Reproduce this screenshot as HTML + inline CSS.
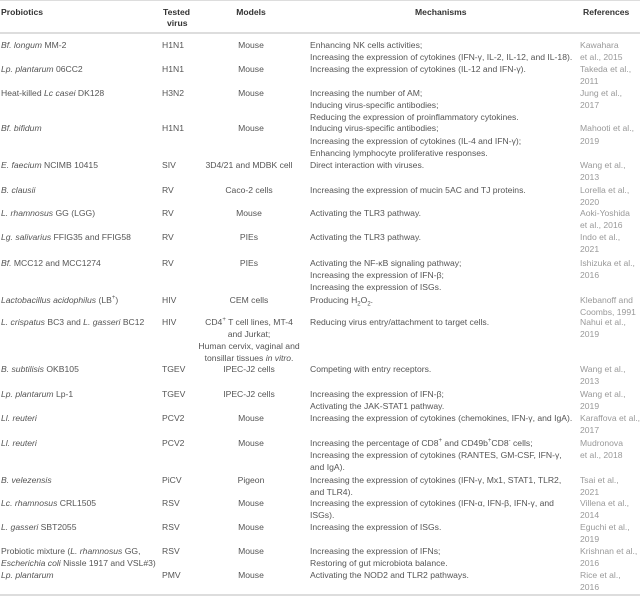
<!DOCTYPE html>
<html><head><meta charset="utf-8"><style>
html,body{margin:0;padding:0;background:#fff;}
body{width:640px;height:598px;position:relative;overflow:hidden;font-family:"Liberation Sans",Arial,sans-serif;font-size:8.6px;color:#555;}
div.t{position:absolute;white-space:nowrap;line-height:10px;}
.h{font-weight:bold;color:#333;}
.r{color:#999;}
.c{width:120px;text-align:center;}
.hl{position:absolute;left:0;width:640px;background:#ddd;}
sup,sub{font-size:6px;line-height:0;}
</style></head><body>
<div class="hl" style="top:0;height:1px"></div>
<div class="hl" style="top:32px;height:2px"></div>
<div class="hl" style="top:594px;height:2px"></div>

<div class="t h" style="left:1px;top:7px">Probiotics</div>
<div class="t h" style="left:163px;top:7px">Tested</div>
<div class="t h" style="left:167px;top:18px">virus</div>
<div class="t h c" style="left:191px;top:7px">Models</div>
<div class="t h" style="left:415px;top:7px">Mechanisms</div>
<div class="t h" style="left:583px;top:7px">References</div>

<!-- col1 -->
<div class="t" style="left:1px;top:40px"><i>Bf. longum</i> MM-2</div>
<div class="t" style="left:1px;top:64px"><i>Lp. plantarum</i> 06CC2</div>
<div class="t" style="left:1px;top:88px">Heat-killed <i>Lc casei</i> DK128</div>
<div class="t" style="left:1px;top:123px"><i>Bf. bifidum</i></div>
<div class="t" style="left:1px;top:160px"><i>E. faecium</i> NCIMB 10415</div>
<div class="t" style="left:1px;top:185px"><i>B. clausii</i></div>
<div class="t" style="left:1px;top:208px"><i>L. rhamnosus</i> GG (LGG)</div>
<div class="t" style="left:1px;top:232px"><i>Lg. salivarius</i> FFIG35 and FFIG58</div>
<div class="t" style="left:1px;top:258px"><i>Bf.</i> MCC12 and MCC1274</div>
<div class="t" style="left:1px;top:295px"><i>Lactobacillus acidophilus</i> (LB<sup>+</sup>)</div>
<div class="t" style="left:1px;top:317px"><i>L. crispatus</i> BC3 and <i>L. gasseri</i> BC12</div>
<div class="t" style="left:1px;top:364px"><i>B. subtilisis</i> OKB105</div>
<div class="t" style="left:1px;top:389px"><i>Lp. plantarum</i> Lp-1</div>
<div class="t" style="left:1px;top:413px"><i>Ll. reuteri</i></div>
<div class="t" style="left:1px;top:438px"><i>Ll. reuteri</i></div>
<div class="t" style="left:1px;top:475px"><i>B. velezensis</i></div>
<div class="t" style="left:1px;top:498px"><i>Lc. rhamnosus</i> CRL1505</div>
<div class="t" style="left:1px;top:522px"><i>L. gasseri</i> SBT2055</div>
<div class="t" style="left:1px;top:546px">Probiotic mixture (<i>L. rhamnosus</i> GG,</div>
<div class="t" style="left:1px;top:558px"><i>Escherichia coli</i> Nissle 1917 and VSL#3)</div>
<div class="t" style="left:1px;top:570px"><i>Lp. plantarum</i></div>

<!-- col2 -->
<div class="t" style="left:162px;top:40px">H1N1</div>
<div class="t" style="left:162px;top:64px">H1N1</div>
<div class="t" style="left:162px;top:88px">H3N2</div>
<div class="t" style="left:162px;top:123px">H1N1</div>
<div class="t" style="left:162px;top:160px">SIV</div>
<div class="t" style="left:162px;top:185px">RV</div>
<div class="t" style="left:162px;top:208px">RV</div>
<div class="t" style="left:162px;top:232px">RV</div>
<div class="t" style="left:162px;top:258px">RV</div>
<div class="t" style="left:162px;top:295px">HIV</div>
<div class="t" style="left:162px;top:317px">HIV</div>
<div class="t" style="left:162px;top:364px">TGEV</div>
<div class="t" style="left:162px;top:389px">TGEV</div>
<div class="t" style="left:162px;top:413px">PCV2</div>
<div class="t" style="left:162px;top:438px">PCV2</div>
<div class="t" style="left:162px;top:475px">PiCV</div>
<div class="t" style="left:162px;top:498px">RSV</div>
<div class="t" style="left:162px;top:522px">RSV</div>
<div class="t" style="left:162px;top:546px">RSV</div>
<div class="t" style="left:162px;top:570px">PMV</div>

<!-- col3 -->
<div class="t c" style="left:191px;top:40px">Mouse</div>
<div class="t c" style="left:191px;top:64px">Mouse</div>
<div class="t c" style="left:191px;top:88px">Mouse</div>
<div class="t c" style="left:191px;top:123px">Mouse</div>
<div class="t c" style="left:189px;top:160px">3D4/21 and MDBK cell</div>
<div class="t c" style="left:189px;top:185px">Caco-2 cells</div>
<div class="t c" style="left:189px;top:208px">Mouse</div>
<div class="t c" style="left:189px;top:232px">PIEs</div>
<div class="t c" style="left:189px;top:258px">PIEs</div>
<div class="t c" style="left:189px;top:295px">CEM cells</div>
<div class="t c" style="left:189px;top:317px">CD4<sup>+</sup> T cell lines, MT-4</div>
<div class="t c" style="left:189px;top:329px">and Jurkat;</div>
<div class="t c" style="left:189px;top:341px">Human cervix, vaginal and</div>
<div class="t c" style="left:189px;top:353px">tonsillar tissues <i>in vitro</i>.</div>
<div class="t c" style="left:189px;top:364px">IPEC-J2 cells</div>
<div class="t c" style="left:189px;top:389px">IPEC-J2 cells</div>
<div class="t c" style="left:191px;top:413px">Mouse</div>
<div class="t c" style="left:191px;top:438px">Mouse</div>
<div class="t c" style="left:191px;top:475px">Pigeon</div>
<div class="t c" style="left:191px;top:498px">Mouse</div>
<div class="t c" style="left:191px;top:522px">Mouse</div>
<div class="t c" style="left:191px;top:546px">Mouse</div>
<div class="t c" style="left:191px;top:570px">Mouse</div>

<!-- col4 -->
<div class="t" style="left:310px;top:40px">Enhancing NK cells activities;</div>
<div class="t" style="left:310px;top:52px">Increasing the expression of cytokines (IFN-γ, IL-2, IL-12, and IL-18).</div>
<div class="t" style="left:310px;top:64px">Increasing the expression of cytokines (IL-12 and IFN-γ).</div>
<div class="t" style="left:310px;top:88px">Increasing the number of AM;</div>
<div class="t" style="left:310px;top:100px">Inducing virus-specific antibodies;</div>
<div class="t" style="left:310px;top:112px">Reducing the expression of proinflammatory cytokines.</div>
<div class="t" style="left:310px;top:123px">Inducing virus-specific antibodies;</div>
<div class="t" style="left:310px;top:136px">Increasing the expression of cytokines (IL-4 and IFN-γ);</div>
<div class="t" style="left:310px;top:148px">Enhancing lymphocyte proliferative responses.</div>
<div class="t" style="left:310px;top:160px">Direct interaction with viruses.</div>
<div class="t" style="left:310px;top:185px">Increasing the expression of mucin 5AC and TJ proteins.</div>
<div class="t" style="left:310px;top:208px">Activating the TLR3 pathway.</div>
<div class="t" style="left:310px;top:232px">Activating the TLR3 pathway.</div>
<div class="t" style="left:310px;top:258px">Activating the NF-κB signaling pathway;</div>
<div class="t" style="left:310px;top:270px">Increasing the expression of IFN-β;</div>
<div class="t" style="left:310px;top:282px">Increasing the expression of ISGs.</div>
<div class="t" style="left:310px;top:295px">Producing H<sub>2</sub>O<sub>2</sub>.</div>
<div class="t" style="left:310px;top:317px">Reducing virus entry/attachment to target cells.</div>
<div class="t" style="left:310px;top:364px">Competing with entry receptors.</div>
<div class="t" style="left:310px;top:389px">Increasing the expression of IFN-β;</div>
<div class="t" style="left:310px;top:401px">Activating the JAK-STAT1 pathway.</div>
<div class="t" style="left:310px;top:413px">Increasing the expression of cytokines (chemokines, IFN-γ, and IgA).</div>
<div class="t" style="left:310px;top:438px">Increasing the percentage of CD8<sup>+</sup> and CD49b<sup>+</sup>CD8<sup>-</sup> cells;</div>
<div class="t" style="left:310px;top:450px">Increasing the expression of cytokines (RANTES, GM-CSF, IFN-γ,</div>
<div class="t" style="left:310px;top:462px">and IgA).</div>
<div class="t" style="left:310px;top:475px">Increasing the expression of cytokines (IFN-γ, Mx1, STAT1, TLR2,</div>
<div class="t" style="left:310px;top:487px">and TLR4).</div>
<div class="t" style="left:310px;top:498px">Increasing the expression of cytokines (IFN-α, IFN-β, IFN-γ, and</div>
<div class="t" style="left:310px;top:510px">ISGs).</div>
<div class="t" style="left:310px;top:522px">Increasing the expression of ISGs.</div>
<div class="t" style="left:310px;top:546px">Increasing the expression of IFNs;</div>
<div class="t" style="left:310px;top:558px">Restoring of gut microbiota balance.</div>
<div class="t" style="left:310px;top:570px">Activating the NOD2 and TLR2 pathways.</div>

<!-- col5 -->
<div class="t r" style="left:580px;top:40px">Kawahara</div>
<div class="t r" style="left:580px;top:52px">et al., 2015</div>
<div class="t r" style="left:580px;top:64px">Takeda et al.,</div>
<div class="t r" style="left:580px;top:76px">2011</div>
<div class="t r" style="left:580px;top:88px">Jung et al.,</div>
<div class="t r" style="left:580px;top:100px">2017</div>
<div class="t r" style="left:580px;top:123px">Mahooti et al.,</div>
<div class="t r" style="left:580px;top:136px">2019</div>
<div class="t r" style="left:580px;top:160px">Wang et al.,</div>
<div class="t r" style="left:580px;top:172px">2013</div>
<div class="t r" style="left:580px;top:185px">Lorella et al.,</div>
<div class="t r" style="left:580px;top:197px">2020</div>
<div class="t r" style="left:580px;top:208px">Aoki-Yoshida</div>
<div class="t r" style="left:580px;top:220px">et al., 2016</div>
<div class="t r" style="left:580px;top:232px">Indo et al.,</div>
<div class="t r" style="left:580px;top:244px">2021</div>
<div class="t r" style="left:580px;top:258px">Ishizuka et al.,</div>
<div class="t r" style="left:580px;top:270px">2016</div>
<div class="t r" style="left:580px;top:295px">Klebanoff and</div>
<div class="t r" style="left:580px;top:307px">Coombs, 1991</div>
<div class="t r" style="left:580px;top:317px">Nahui et al.,</div>
<div class="t r" style="left:580px;top:329px">2019</div>
<div class="t r" style="left:580px;top:364px">Wang et al.,</div>
<div class="t r" style="left:580px;top:376px">2013</div>
<div class="t r" style="left:580px;top:389px">Wang et al.,</div>
<div class="t r" style="left:580px;top:401px">2019</div>
<div class="t r" style="left:580px;top:413px">Karaffova et al.,</div>
<div class="t r" style="left:580px;top:425px">2017</div>
<div class="t r" style="left:580px;top:438px">Mudronova</div>
<div class="t r" style="left:580px;top:450px">et al., 2018</div>
<div class="t r" style="left:580px;top:475px">Tsai et al.,</div>
<div class="t r" style="left:580px;top:487px">2021</div>
<div class="t r" style="left:580px;top:498px">Villena et al.,</div>
<div class="t r" style="left:580px;top:510px">2014</div>
<div class="t r" style="left:580px;top:522px">Eguchi et al.,</div>
<div class="t r" style="left:580px;top:534px">2019</div>
<div class="t r" style="left:580px;top:546px">Krishnan et al.,</div>
<div class="t r" style="left:580px;top:558px">2016</div>
<div class="t r" style="left:580px;top:570px">Rice et al.,</div>
<div class="t r" style="left:580px;top:582px">2016</div>
</body></html>
